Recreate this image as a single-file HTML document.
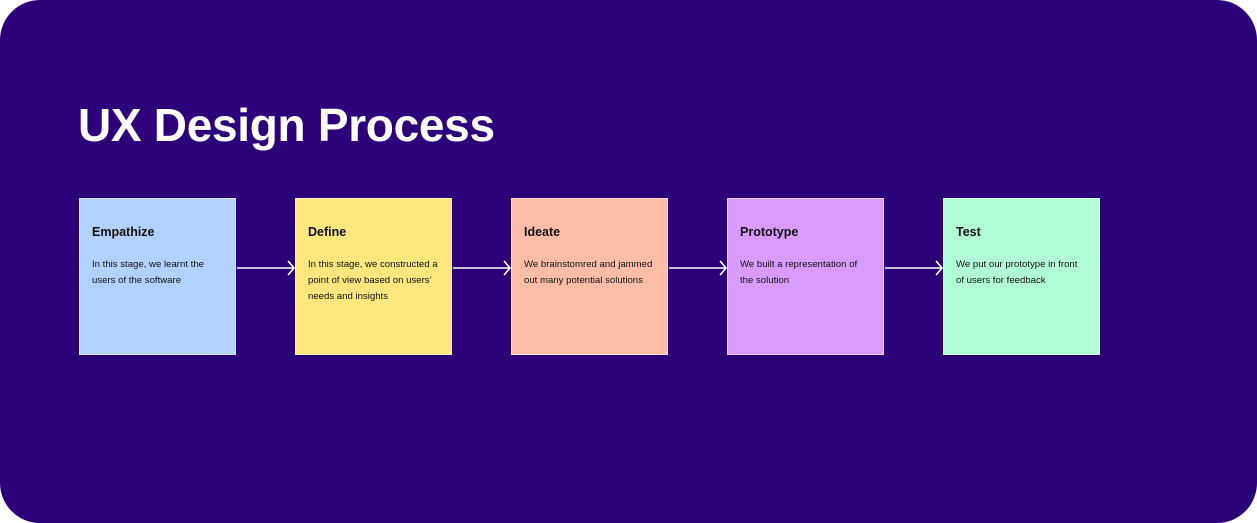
<!DOCTYPE html>
<html><head><style>
html,body{margin:0;padding:0;background:#fff;}
.c{position:relative;width:1257px;height:523px;background:#2b0079;border-radius:40px;overflow:hidden;font-family:"Liberation Sans",sans-serif;}
h1{position:absolute;left:78px;top:95px;margin:0;color:#fff;font-size:46px;font-weight:bold;letter-spacing:-0.3px;line-height:60px;}
.b{position:absolute;top:198px;width:155px;height:155px;border:1px solid rgba(255,255,255,0.5);box-sizing:content-box;}
.b h3{position:absolute;left:12px;top:26px;margin:0;font-size:12.5px;font-weight:bold;color:#111;}
.b p{position:absolute;left:12px;top:58px;margin:0;font-size:9.6px;line-height:16px;color:#111;width:132px;}
</style></head><body>
<div class="c">
<h1>UX Design Process</h1>
<div class="b" style="left:79px;background:#b1d1ff"><h3>Empathize</h3><p>In this stage, we learnt the users of the software</p></div>
<div class="b" style="left:295px;background:#fee77c"><h3>Define</h3><p>In this stage, we constructed a point of view based on users’ needs and insights</p></div>
<div class="b" style="left:511px;background:#ffbda8"><h3>Ideate</h3><p>We brainstomred and jammed out many potential solutions</p></div>
<div class="b" style="left:727px;background:#d99bff"><h3>Prototype</h3><p>We built a representation of the solution</p></div>
<div class="b" style="left:943px;background:#b0ffd5"><h3>Test</h3><p>We put our prototype in front of users for feedback</p></div>
<svg width="1257" height="523" style="position:absolute;left:0;top:0" fill="none" stroke="#fff" stroke-width="1.6">
<g id="a"><line x1="237" y1="268" x2="294" y2="268"/><polyline points="288,261 294,268 288,275"/></g>
<use href="#a" x="216"/><use href="#a" x="432"/><use href="#a" x="648"/>
</svg>
</div>
</body></html>
